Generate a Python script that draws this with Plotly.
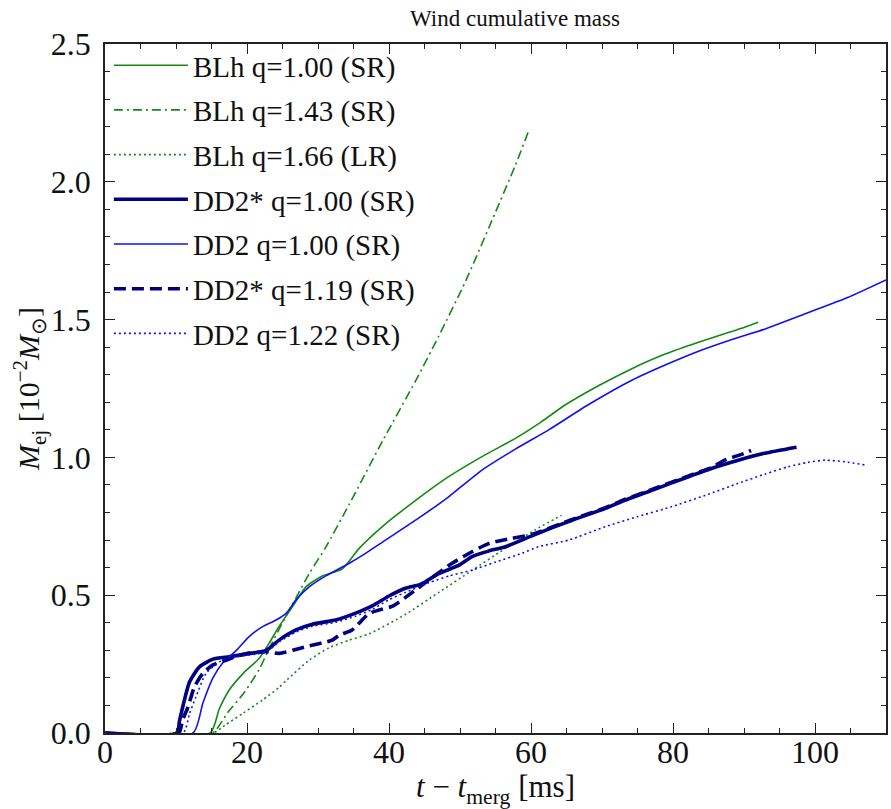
import plotly.graph_objects as go

# ---------------- data ----------------
blh100_x = [0, 14.8, 16.1, 17.5, 19.6, 21.7, 23.1, 24.5, 26.4, 28.3, 30.6, 33.4, 35.8, 39.1, 43.8, 48.4,
            53.1, 57.8, 61.5, 64.8, 69.5, 74.2, 78.9, 83.6, 88.0, 90.1, 92.0]
blh100_y = [0, 0, 0.088, 0.156, 0.22, 0.27, 0.325, 0.386, 0.458, 0.53, 0.57, 0.595, 0.67, 0.75, 0.845, 0.93,
            1.003, 1.069, 1.13, 1.19, 1.26, 1.322, 1.375, 1.418, 1.455, 1.472, 1.49]

blh143_x = [0, 15.1, 17.3, 19.7, 21.7, 23.1, 25.0, 26.9, 28.8, 31.0, 34.4, 39.1, 43.8, 47.0, 50.8, 54.5, 57.8, 59.6]
blh143_y = [0, 0, 0.075, 0.15, 0.23, 0.305, 0.40, 0.49, 0.58, 0.67, 0.83, 1.06, 1.28, 1.44, 1.64, 1.86, 2.06, 2.18]

blh166_x = [0, 15.2, 17.0, 19.4, 22.2, 24.5, 25.5, 28.8, 31.6, 34.4, 37.2, 42.3, 47.0, 51.7, 56.4, 61.1, 64.3]
blh166_y = [0, 0, 0.03, 0.071, 0.12, 0.165, 0.19, 0.265, 0.31, 0.337, 0.36, 0.43, 0.51, 0.59, 0.67, 0.745, 0.79]

dd2s100_x = [0, 10.1, 10.5, 11.0, 11.9, 13.3, 15.2, 17.5, 20.3, 22.7, 24.5, 26.9, 29.2, 32.5, 35.3, 37.7, 40.0,
             42.3, 44.5, 47.0, 49.8, 51.7, 54.0, 56.4, 60.1, 63.0, 65.8, 70.5, 73.3, 77.5, 82.2, 85.4, 89.2, 92.9, 97.4]
dd2s100_y = [0, 0, 0.045, 0.10, 0.185, 0.24, 0.268, 0.277, 0.288, 0.30, 0.337, 0.374, 0.395, 0.41, 0.435, 0.462,
             0.497, 0.525, 0.54, 0.578, 0.608, 0.64, 0.66, 0.676, 0.715, 0.745, 0.772, 0.815, 0.845, 0.885, 0.93,
             0.96, 0.99, 1.015, 1.037]

dd2100_x = [0, 12.4, 13.8, 15.2, 16.6, 18.5, 20.3, 22.2, 24.1, 25.5, 26.9, 28.8, 31.1, 34.4, 36.7, 39.5, 43.8, 48.4,
            53.1, 57.8, 62.5, 68.0, 74.2, 78.9, 83.6, 88.0, 92.9, 96.5, 100.0, 104.6, 110.0]
dd2100_y = [0, 0, 0.11, 0.2, 0.255, 0.30, 0.35, 0.386, 0.41, 0.434, 0.483, 0.531, 0.57, 0.616, 0.652, 0.70, 0.773,
            0.857, 0.954, 1.03, 1.10, 1.19, 1.28, 1.335, 1.385, 1.425, 1.465, 1.50, 1.535, 1.58, 1.644]

dd2s119_x = [0, 10.4, 10.9, 11.7, 12.6, 13.8, 15.2, 16.8, 18.5, 20.3, 22.7, 24.5, 28.3, 32.0, 33.0, 34.8, 37.2,
             38.6, 40.5, 43.8, 46.1, 48.9, 51.5, 54.1, 57.3, 60.1, 65.8, 70.5, 73.3, 77.5, 82.2, 85.4, 87.3, 90.1, 91.0]
dd2s119_y = [0, 0, 0.045, 0.095, 0.168, 0.217, 0.247, 0.262, 0.278, 0.29, 0.295, 0.289, 0.313, 0.337, 0.355, 0.374,
             0.434, 0.446, 0.46, 0.52, 0.565, 0.616, 0.655, 0.688, 0.706, 0.72, 0.775, 0.818, 0.848, 0.888, 0.933,
             0.963, 0.99, 1.015, 1.025]

dd2122_x = [0, 11.0, 11.9, 12.8, 14.2, 16.1, 18.0, 20.3, 22.7, 24.5, 26.9, 29.2, 32.5, 35.3, 37.7, 40.0, 42.3,
            45.6, 48.5, 51.7, 55.0, 58.7, 61.1, 65.3, 70.5, 75.0, 79.8, 84.5, 89.2, 93.0, 96.2, 99.0, 101.4,
            104.2, 107.2]
dd2122_y = [0, 0, 0.07, 0.13, 0.215, 0.258, 0.275, 0.283, 0.294, 0.33, 0.366, 0.387, 0.402, 0.424, 0.449, 0.484,
            0.51, 0.545, 0.57, 0.591, 0.62, 0.652, 0.676, 0.70, 0.749, 0.785, 0.821, 0.862, 0.906, 0.94, 0.966,
            0.982, 0.99, 0.984, 0.972]

x_ticks = [0, 20, 40, 60, 80, 100]
y_ticks = [0.0, 0.5, 1.0, 1.5, 2.0, 2.5]

GREEN = "#138a13"
NAVY = "#000080"
BLUE = "#1010f0"
FONT = "Liberation Serif"

series = [
    ("BLh q=1.00 (SR)", blh100_x, blh100_y, GREEN, 1.6, "solid"),
    ("BLh q=1.43 (SR)", blh143_x, blh143_y, GREEN, 1.6, "9px,4px,2px,4px"),
    ("BLh q=1.66 (LR)", blh166_x, blh166_y, GREEN, 1.6, "2px,3px"),
    ("DD2* q=1.00 (SR)", dd2s100_x, dd2s100_y, NAVY, 3.6, "solid"),
    ("DD2 q=1.00 (SR)", dd2100_x, dd2100_y, BLUE, 1.6, "solid"),
    ("DD2* q=1.19 (SR)", dd2s119_x, dd2s119_y, NAVY, 3.6, "12px,6px"),
    ("DD2 q=1.22 (SR)", dd2122_x, dd2122_y, BLUE, 1.6, "2px,3px"),
]

fig = go.Figure()
for i, (name, xs, ys, col, w, dash) in enumerate(series):
    fig.add_trace(go.Scatter(x=xs, y=ys, mode="lines", name=name, legendgroup=f"g{i}",
                             line=dict(color=col, width=w, dash=dash, shape="spline", smoothing=0.6)))

axis_common = dict(
    showline=True, linecolor="#222", linewidth=1.5, mirror="allticks",
    ticks="inside", ticklen=10, tickwidth=1.3, tickcolor="#222",
    showgrid=False, zeroline=False,
    tickfont=dict(family=FONT, size=32, color="#111"),
)

fig.update_xaxes(range=[0, 110], tickvals=x_ticks, ticktext=[str(v) for v in x_ticks],
                 minor=dict(dtick=5, tick0=0, ticks="inside", ticklen=5, tickcolor="#222", showgrid=False),
                 title=dict(text="<i>t</i> − <i>t</i><sub>merg</sub> [ms]",
                            font=dict(family=FONT, size=31, color="#111"), standoff=3),
                 ticklabelstandoff=-10,
                 **axis_common)
fig.update_yaxes(range=[0, 2.5], tickvals=y_ticks, ticktext=[f"{v:.1f}" for v in y_ticks],
                 minor=dict(dtick=0.1, tick0=0, ticks="inside", ticklen=5, tickcolor="#222", showgrid=False),
                 title=dict(text="<i>M</i><sub>ej</sub> [10<sup>−2</sup><i>M</i><sub>⊙</sub>]",
                            font=dict(family=FONT, size=30, color="#111"), standoff=2),
                 ticklabelstandoff=6,
                 **axis_common)

fig.update_layout(
    width=891, height=809,
    margin=dict(l=105, r=3, t=44, b=76),
    paper_bgcolor="white", plot_bgcolor="white",
    title=dict(text="Wind cumulative mass", x=0.578, xanchor="center", y=0.978, yanchor="middle",
               font=dict(family=FONT, size=23, color="#111")),
    legend=dict(x=0.005, y=1.006, xanchor="left", yanchor="top", bgcolor="rgba(0,0,0,0)",
                font=dict(family=FONT, size=29, color="#111"), tracegroupgap=4, itemwidth=74),
    showlegend=True,
)

fig.write_html("out.html")
